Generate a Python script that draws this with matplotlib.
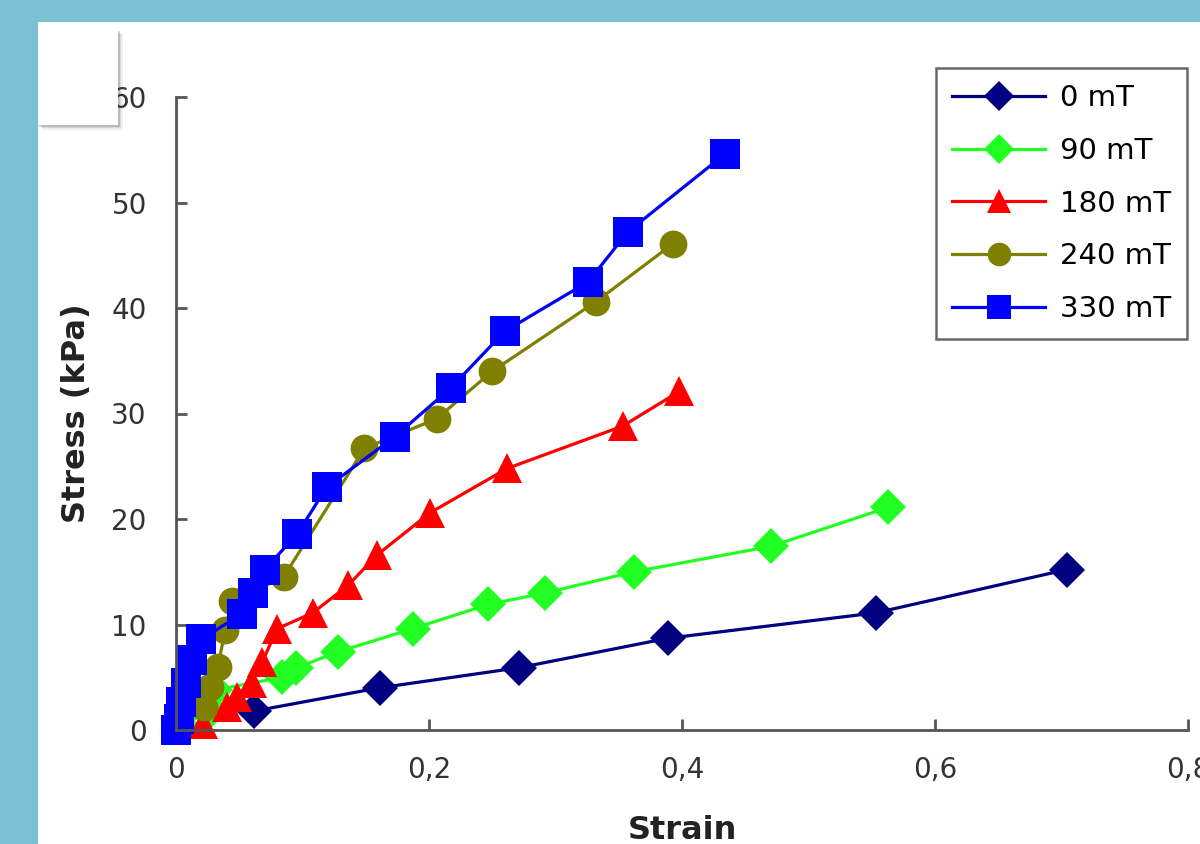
import matplotlib
matplotlib.use("Agg")
import matplotlib.pyplot as plt
from matplotlib.patches import Rectangle

plt.rcParams['font.family'] = ['DejaVu Sans']

# Strain / stress (kPa)
strain_0 = [0.062, 0.161, 0.271, 0.389, 0.553, 0.704]
stress_0 = [1.8, 4.0, 5.9, 8.7, 11.1, 15.2]

strain_90 = [0.005, 0.028, 0.031, 0.084, 0.095, 0.128, 0.187, 0.247, 0.292, 0.362, 0.470, 0.563]
stress_90 = [0.4, 1.9, 3.8, 5.0, 5.9, 7.4, 9.6, 11.9, 13.0, 15.0, 17.4, 21.1]

strain_180 = [0.021, 0.040, 0.048, 0.060, 0.068, 0.080, 0.108, 0.136, 0.159, 0.201, 0.262, 0.353, 0.398]
stress_180 = [0.6, 2.2, 3.1, 4.5, 6.4, 9.6, 11.1, 13.7, 16.6, 20.6, 24.8, 28.8, 32.1]

strain_240 = [0.022, 0.027, 0.033, 0.039, 0.044, 0.085, 0.149, 0.206, 0.250, 0.332, 0.393]
stress_240 = [2.2, 4.1, 6.0, 9.5, 12.2, 14.5, 26.7, 29.5, 34.0, 40.6, 46.1]

strain_330 = [0.0, 0.002, 0.004, 0.008, 0.013, 0.020, 0.052, 0.061, 0.070, 0.096, 0.119, 0.173, 0.217, 0.260, 0.326, 0.357, 0.434]
stress_330 = [0.0, 1.0, 2.7, 4.5, 6.6, 8.6, 11.0, 13.0, 15.2, 18.6, 23.0, 27.8, 32.4, 37.8, 42.5, 47.2, 54.6]

labels = ['0 mT', '90 mT', '180 mT', '240 mT', '330 mT']

fig = plt.figure(figsize=(12, 8.44), dpi=100)
fig.patch.set_facecolor('#7cc0d4')
# white slide panel
fig.add_artist(Rectangle((38 / 1200, 0), 1 - 38 / 1200, 1 - 22 / 844,
                         transform=fig.transFigure, facecolor='white',
                         edgecolor='none', zorder=0))

ax = fig.add_axes([176 / 1200, 114 / 844, 1012 / 1200, 633 / 844])
ax.set_facecolor('white')

series = [
    (strain_0, stress_0, '#000080', 'D', 18),
    (strain_90, stress_90, '#22ff22', 'D', 18),
    (strain_180, stress_180, '#ff0000', '^', 21),
    (strain_240, stress_240, '#808000', 'o', 20),
    (strain_330, stress_330, '#0000ff', 's', 21),
]
for (x, y, c, m, ms), lab in zip(series, labels):
    ax.plot(x, y, color=c, marker=m, markersize=ms, linewidth=2.3,
            markeredgewidth=0, label=lab, clip_on=False)

ax.set_xlim(0, 0.8)
ax.set_ylim(0, 60)
ax.set_xticks([0, 0.2, 0.4, 0.6, 0.8])
ax.set_xticklabels(['0', '0,2', '0,4', '0,6', '0,8'])
ax.set_yticks(range(0, 61, 10))

for s in ['top', 'right']:
    ax.spines[s].set_visible(False)
for s in ['left', 'bottom']:
    ax.spines[s].set_color('#555555')
    ax.spines[s].set_linewidth(2)
ax.tick_params(direction='in', length=8, width=2, color='#555555',
               labelsize=20, labelcolor='#333333')
ax.tick_params(axis='x', pad=19)
ax.tick_params(axis='y', pad=21)

ax.set_xlabel('Strain', fontsize=23, fontweight='bold', color='#222222', labelpad=22)
ax.set_ylabel('Stress (kPa)', fontsize=23, fontweight='bold', color='#222222', labelpad=14)

leg = ax.legend(loc='upper right', bbox_to_anchor=(1187 / 1200, 1 - 68 / 844),
                bbox_transform=fig.transFigure, fontsize=21, frameon=True,
                fancybox=False, handlelength=3.2, labelspacing=0.85,
                borderpad=0.55, handletextpad=0.5, borderaxespad=0,
                markerscale=0.85)
leg.get_frame().set_edgecolor('#444444')
leg.get_frame().set_linewidth(1.8)

# blank note box with soft shadow in the top-left corner
for i, a in enumerate([0.08, 0.12, 0.18]):
    off = (3 - i) * 1.5
    fig.add_artist(Rectangle(((38 + off) / 1200, 1 - (125 + off) / 844), 80 / 1200, 95 / 844,
                             transform=fig.transFigure, facecolor='#333333',
                             alpha=a, edgecolor='none', zorder=9))
fig.add_artist(Rectangle((38 / 1200, 1 - 125 / 844), 80 / 1200, 95 / 844,
                         transform=fig.transFigure, facecolor='white',
                         edgecolor='none', zorder=10))

fig.savefig('out.png', dpi=100, facecolor=fig.get_facecolor())
